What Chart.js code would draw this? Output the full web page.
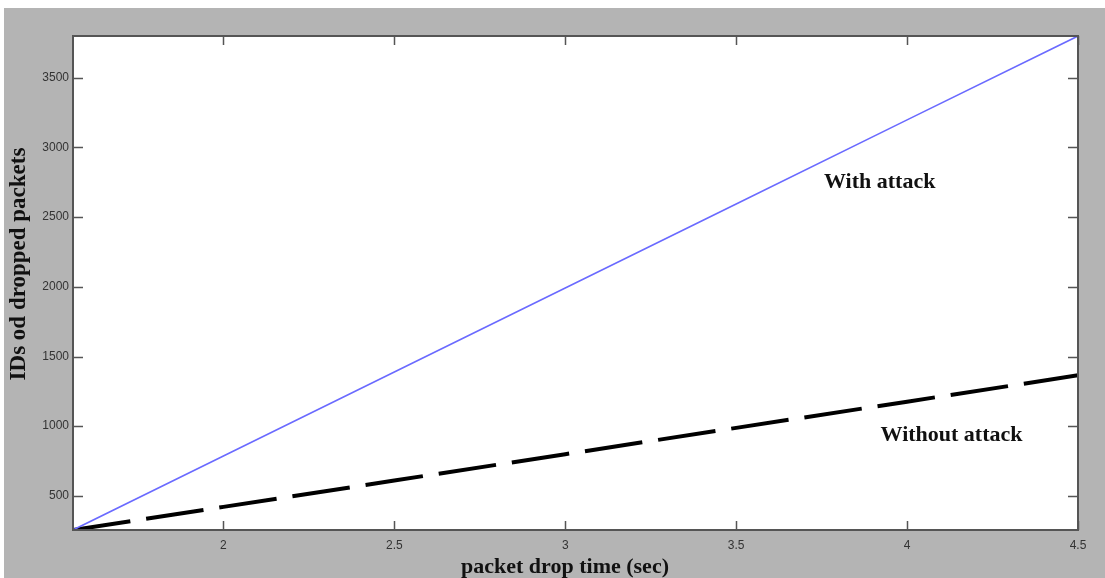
<!DOCTYPE html>
<html>
<head>
<meta charset="utf-8">
<script src="https://cdn.jsdelivr.net/npm/chart.js@4.4.1/dist/chart.umd.min.js"></script>
<style>
  html, body { margin: 0; padding: 0; background: #fff; }
  #wrap { width: 1105px; height: 578px; }
</style>
</head>
<body>
<div id="wrap"><canvas id="chart" width="1105" height="578"></canvas></div>
<script>
// data
const xValues = [1.56, 2, 2.5, 3, 3.5, 4, 4.5];
const withAttack = [255, 786, 1389, 1992, 2595, 3198, 3800];
const withoutAttack = [255, 421, 610, 799, 988, 1176, 1365];
const xTicks = [2, 2.5, 3, 3.5, 4, 4.5];
const yTicks = [500, 1000, 1500, 2000, 2500, 3000, 3500];
const labels = [
    { text: 'With attack', x: 3.92, y: 2747 },
    { text: 'Without attack', x: 4.13, y: 931 }
];

const toPoints = (ys) => ys.map((y, i) => ({ x: xValues[i], y: y }));

const framePlugin = {
    id: 'frame',
    beforeDraw(chart) {
        const ctx = chart.ctx;
        ctx.save();
        ctx.fillStyle = '#ffffff';
        ctx.fillRect(0, 0, chart.width, chart.height);
        ctx.fillStyle = '#b4b4b4';
        ctx.fillRect(4, 8, chart.width - 4, chart.height - 8);
        const a = chart.chartArea;
        ctx.fillStyle = '#ffffff';
        ctx.fillRect(a.left, a.top, a.right - a.left, a.bottom - a.top);
        ctx.restore();
    },
    afterDraw(chart) {
        const ctx = chart.ctx;
        const a = chart.chartArea;
        const xs = chart.scales.x, ys = chart.scales.y;
        ctx.save();
        // inward tick marks on all four sides
        ctx.strokeStyle = '#555';
        ctx.lineWidth = 1.5;
        ctx.beginPath();
        xTicks.forEach(v => {
            const px = Math.round(xs.getPixelForValue(v)) + 0.5;
            ctx.moveTo(px, a.bottom); ctx.lineTo(px, a.bottom - 9);
            ctx.moveTo(px, a.top); ctx.lineTo(px, a.top + 9);
        });
        yTicks.forEach(v => {
            const py = Math.round(ys.getPixelForValue(v)) + 0.5;
            ctx.moveTo(a.left, py); ctx.lineTo(a.left + 10, py);
            ctx.moveTo(a.right, py); ctx.lineTo(a.right - 10, py);
        });
        ctx.stroke();
        // box
        ctx.strokeStyle = '#555';
        ctx.lineWidth = 2;
        ctx.strokeRect(a.left, a.top, a.right - a.left, a.bottom - a.top);

        // series labels
        ctx.fillStyle = '#111';
        ctx.font = 'bold 22px "Liberation Serif", serif';
        ctx.textAlign = 'center';
        ctx.textBaseline = 'middle';
        labels.forEach(l => {
            ctx.fillText(l.text, xs.getPixelForValue(l.x), ys.getPixelForValue(l.y));
        });

        // axis titles
        ctx.font = 'bold 22px "Liberation Serif", serif';
        ctx.fillText('packet drop time (sec)', 565, 567);
        ctx.translate(19, 264);
        ctx.rotate(-Math.PI / 2);
        ctx.font = 'bold 23px "Liberation Serif", serif';
        ctx.fillText('IDs od dropped packets', 0, 0);
        ctx.restore();
    }
};

new Chart(document.getElementById('chart'), {
    type: 'line',
    data: {
        datasets: [{
            label: 'With attack',
            data: toPoints(withAttack),
            borderColor: '#6a6aff',
            borderWidth: 1.6,
            pointRadius: 0,
            tension: 0
        }, {
            label: 'Without attack',
            data: toPoints(withoutAttack),
            borderColor: '#000000',
            borderWidth: 4,
            borderDash: [58, 16],
            pointRadius: 0,
            tension: 0
        }]
    },
    options: {
        responsive: false,
        animation: false,
        layout: { padding: { left: 0, top: 36, right: 27, bottom: 0 } },
        plugins: { legend: { display: false }, tooltip: { enabled: false } },
        scales: {
            x: {
                type: 'linear',
                min: 1.56,
                max: 4.5,
                afterBuildTicks: (s) => { s.ticks = xTicks.map(v => ({ value: v })); },
                afterFit: (s) => { s.height = 48; },
                grid: { display: false, drawTicks: false },
                border: { display: false },
                ticks: {
                    padding: 8,
                    color: '#333',
                    font: { family: '"Liberation Sans", Arial', size: 12 },
                    maxRotation: 0,
                    callback: (v) => String(v)
                }
            },
            y: {
                min: 255,
                max: 3800,
                afterBuildTicks: (s) => { s.ticks = yTicks.map(v => ({ value: v })); },
                afterFit: (s) => { s.width = 73; },
                grid: { display: false, drawTicks: false },
                border: { display: false },
                ticks: {
                    padding: 4,
                    color: '#333',
                    font: { family: '"Liberation Sans", Arial', size: 12 },
                    callback: (v) => String(v)
                }
            }
        }
    },
    plugins: [framePlugin]
});
</script>
</body>
</html>
